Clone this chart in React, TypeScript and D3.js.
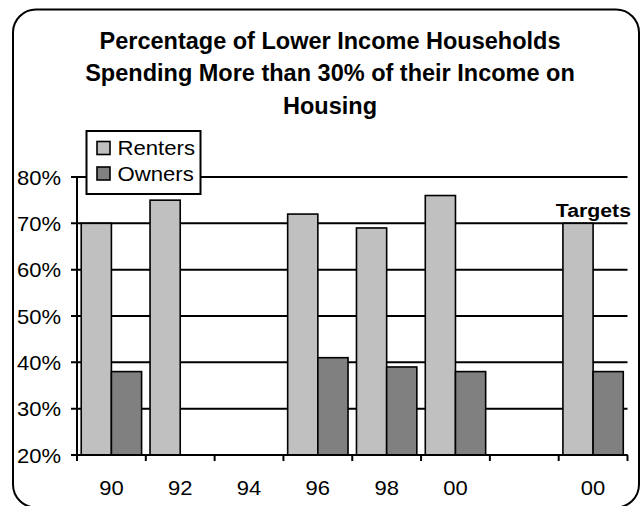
import React from "react";
import * as d3 from "d3";

const titleLines = [
  "Percentage of Lower Income Households",
  "Spending More than 30% of their Income on",
  "Housing",
];
const categories = ["90", "92", "94", "96", "98", "00", "", "00"];
const seriesNames = ["Renters", "Owners"];
const renters: (number | null)[] = [70, 75, null, 72, 69, 76, null, 70];
const owners: (number | null)[] = [38, null, null, 41, 39, 38, null, 38];
const yTicks = [20, 30, 40, 50, 60, 70, 80];
const targetLabel = "Targets";

const W = 644;
const H = 506;
const FONT = "'Liberation Sans', Arial, Helvetica, sans-serif";
const colors: Record<string, string> = { Renters: "#c0c0c0", Owners: "#808080" };

function SText({ x, y, sx = 1.1, anchor = "start", size = 20, weight = "normal", children }: any) {
  return (
    <text
      transform={`translate(${x},${y}) scale(${sx},1)`}
      textAnchor={anchor}
      fontFamily={FONT}
      fontSize={size}
      fontWeight={weight}
      fill="#000"
    >
      {children}
    </text>
  );
}

export default function App() {
  const left = 77;
  const right = 627.5;
  const top = 177;
  const bottom = 455;

  const idx = d3.range(categories.length);
  const x = d3.scaleBand<number>().domain(idx).range([left, right]).paddingInner(0).paddingOuter(0);
  const x1 = d3.scaleBand<string>().domain(seriesNames).range([0, x.bandwidth()]).paddingInner(0).paddingOuter(0.14);
  const y = d3.scaleLinear().domain([20, 80]).range([bottom, top]);

  const seriesData: Record<string, (number | null)[]> = { Renters: renters, Owners: owners };
  const tickXs = d3.range(categories.length + 1).map((i) => left + i * x.step());

  return (
    <svg width={W} height={H} style={{ position: "absolute", left: 0, top: 0, background: "#fff" }}>
      <rect x={0} y={0} width={W} height={H} fill="#fff" />
      {/* border */}
      <rect x={13} y={9.5} width={626} height={498} rx={23} ry={23} fill="#fff" stroke="#000" strokeWidth={2} />

      {/* title */}
      {titleLines.map((t, i) => (
        <text
          key={i}
          x={330}
          y={48.5 + i * 32.8}
          textAnchor="middle"
          fontFamily={FONT}
          fontSize={23.5}
          fontWeight="bold"
          fill="#000"
        >
          {t}
        </text>
      ))}

      {/* gridlines */}
      {yTicks.map((t) => (
        <line key={t} x1={left - 6} x2={right} y1={y(t)} y2={y(t)} stroke="#000" strokeWidth={2} />
      ))}
      {/* y tick labels */}
      {yTicks.map((t) => (
        <SText key={"l" + t} x={61} y={y(t) + 7.5} anchor="end" sx={1.1} size={20}>
          {t}%
        </SText>
      ))}

      {/* bars */}
      {seriesNames.map((s) =>
        idx.map((i) => {
          const v = seriesData[s][i];
          if (v == null) return null;
          return (
            <rect
              key={s + i}
              x={(x(i) as number) + (x1(s) as number)}
              y={y(v)}
              width={x1.bandwidth()}
              height={y(20) - y(v)}
              fill={colors[s]}
              stroke="#000"
              strokeWidth={1.6}
            />
          );
        })
      )}

      {/* axes */}
      <line x1={left} x2={left} y1={top} y2={bottom} stroke="#000" strokeWidth={2} />
      <line x1={left} x2={right} y1={bottom} y2={bottom} stroke="#000" strokeWidth={2} />
      {tickXs.map((tx, i) => (
        <line key={"t" + i} x1={tx} x2={tx} y1={bottom} y2={bottom + 6} stroke="#000" strokeWidth={2} />
      ))}
      {idx.map((i) => (
        <SText key={"c" + i} x={(x(i) as number) + x.bandwidth() / 2} y={495} anchor="middle" sx={1.1} size={20}>
          {categories[i]}
        </SText>
      ))}

      {/* targets label */}
      <SText x={right + 3.5} y={216.5} anchor="end" sx={1.12} size={19} weight="bold">
        {targetLabel}
      </SText>

      {/* legend */}
      <rect x={86.5} y={131} width={114} height={63} fill="#fff" stroke="#000" strokeWidth={2} />
      {seriesNames.map((s, i) => (
        <g key={"lg" + s}>
          <rect x={97} y={141.5 + i * 25.5} width={13} height={13} fill={colors[s]} stroke="#000" strokeWidth={1.6} />
          <SText x={117.5} y={155 + i * 25.5} sx={1.08} size={20.5}>
            {s}
          </SText>
        </g>
      ))}
    </svg>
  );
}
